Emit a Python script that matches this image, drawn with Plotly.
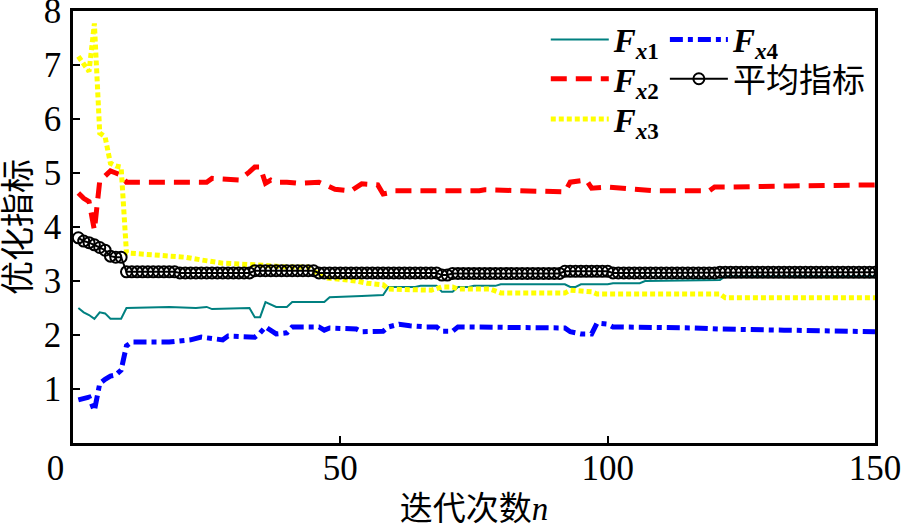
import plotly.graph_objects as go

# ---------------- data ----------------
fx1_n = [1, 2, 3, 4, 5, 6, 7, 9, 10, 18, 23, 25, 26, 33, 34, 35, 36, 38, 40, 41, 47, 48, 54, 58, 59,
         64, 65, 68, 69, 71, 72, 74, 75, 79, 80, 92, 93, 94, 95, 100, 101, 106, 107, 121, 122, 150]
fx1_v = [2.50, 2.42, 2.37, 2.30, 2.42, 2.40, 2.30, 2.30, 2.50, 2.52, 2.50, 2.52, 2.48, 2.50, 2.33, 2.33,
         2.61, 2.52, 2.52, 2.61, 2.61, 2.70, 2.72, 2.74, 2.89, 2.89, 2.91, 2.91, 2.80, 2.80, 2.89, 2.89,
         2.91, 2.91, 2.94, 2.94, 2.89, 2.89, 2.94, 2.94, 2.96, 2.96, 3.00, 3.02, 3.09, 3.09]

fx2_n = [1, 2, 3, 4, 5, 6, 7, 8, 9, 10, 25, 26, 31, 33, 34, 35, 36, 37, 38, 40, 42, 46, 47, 49, 52,
         54, 57, 58, 59, 60, 76, 77, 92, 93, 96, 97, 100, 104, 109, 119, 120, 123, 133, 134, 150]
fx2_v = [4.63, 4.53, 4.47, 3.94, 4.85, 4.95, 5.04, 5.00, 4.96, 4.83, 4.83, 4.90, 4.87, 5.02, 5.11, 5.11,
         4.81, 4.87, 4.83, 4.83, 4.81, 4.83, 4.78, 4.70, 4.67, 4.80, 4.78, 4.61, 4.63, 4.67, 4.67, 4.69,
         4.65, 4.83, 4.87, 4.72, 4.74, 4.70, 4.67, 4.67, 4.74, 4.74, 4.74, 4.76, 4.78]

fx3_n = [1, 2, 3, 4, 5, 6, 7, 8, 9, 10, 16, 21, 24, 28, 34, 40, 44, 47, 53, 55, 58, 59, 67, 69, 71,
         72, 78, 80, 92, 93, 97, 98, 121, 122, 150]
fx3_v = [7.16, 7.02, 6.88, 7.77, 5.74, 5.67, 5.18, 5.13, 5.11, 3.52, 3.48, 3.44, 3.39, 3.33, 3.30, 3.26,
         3.26, 3.06, 3.00, 2.96, 2.93, 2.85, 2.83, 2.89, 2.89, 2.85, 2.85, 2.78, 2.78, 2.83, 2.80, 2.76,
         2.76, 2.69, 2.69]

fx4_n = [1, 2, 3, 4, 5, 6, 7, 8, 9, 10, 11, 18, 21, 22, 24, 26, 28, 29, 34, 35, 36, 38, 40, 41, 46,
         47, 48, 53, 54, 58, 59, 61, 63, 66, 68, 69, 71, 72, 92, 93, 95, 97, 98, 100, 101, 116, 121,
         133, 142, 150]
fx4_v = [0.80, 0.82, 0.85, 0.60, 1.10, 1.18, 1.24, 1.26, 1.35, 1.80, 1.87, 1.87, 1.89, 1.91, 1.96, 1.93,
         1.91, 1.98, 1.96, 2.04, 2.15, 2.02, 2.04, 2.15, 2.15, 2.09, 2.13, 2.11, 2.06, 2.07, 2.15, 2.20,
         2.17, 2.15, 2.15, 2.07, 2.07, 2.15, 2.13, 2.06, 2.02, 2.02, 2.22, 2.20, 2.15, 2.13, 2.11, 2.09,
         2.07, 2.06]

avg_n = list(range(1, 151))
avg_v = [3.80, 3.74, 3.71, 3.67, 3.62, 3.57, 3.46, 3.44, 3.44, 3.17,
         3.17, 3.17, 3.17, 3.17, 3.17, 3.17, 3.17, 3.17, 3.17, 3.15,
         3.15, 3.15, 3.15, 3.15, 3.15, 3.15, 3.15, 3.15, 3.15, 3.15,
         3.15, 3.15, 3.15, 3.19, 3.19, 3.19, 3.19, 3.19, 3.19, 3.19,
         3.19, 3.19, 3.19, 3.19, 3.19, 3.15, 3.15, 3.15, 3.15, 3.15,
         3.15, 3.15, 3.15, 3.15, 3.15, 3.15, 3.15, 3.15, 3.15, 3.15,
         3.15, 3.15, 3.15, 3.15, 3.15, 3.15, 3.15, 3.15, 3.11, 3.11,
         3.14, 3.14, 3.14, 3.14, 3.14, 3.14, 3.14, 3.14, 3.14, 3.14,
         3.14, 3.14, 3.14, 3.14, 3.14, 3.14, 3.14, 3.14, 3.14, 3.14,
         3.14, 3.18, 3.18, 3.18, 3.18, 3.18, 3.18, 3.18, 3.18, 3.18,
         3.15, 3.15, 3.15, 3.15, 3.15, 3.15, 3.15, 3.15, 3.15, 3.15,
         3.15, 3.15, 3.15, 3.15, 3.15, 3.15, 3.15, 3.15, 3.15, 3.15,
         3.16, 3.16, 3.16, 3.16, 3.16, 3.16, 3.16, 3.16, 3.16, 3.16,
         3.16, 3.16, 3.16, 3.16, 3.16, 3.16, 3.16, 3.16, 3.16, 3.16,
         3.16, 3.16, 3.16, 3.16, 3.16, 3.16, 3.16, 3.16, 3.16, 3.16]

x_ticks = [0, 50, 100, 150]
x_tick_text = ["0&nbsp;&nbsp;&nbsp;&nbsp;", "50", "100", "150"]
y_ticks = [1, 2, 3, 4, 5, 6, 7, 8]
names = ["<b><i>F</i><sub><i>x</i>1</sub></b>",
         "<b><i>F</i><sub><i>x</i>2</sub></b>",
         "<b><i>F</i><sub><i>x</i>3</sub></b>",
         "<b><i>F</i><sub><i>x</i>4</sub></b>",
         "平均指标"]

SERIF = "Liberation Serif, Noto Sans CJK SC, serif"

fig = go.Figure()
fig.add_trace(go.Scatter(x=fx1_n, y=fx1_v, mode="lines", name=names[0], showlegend=True,
                         line=dict(color="#008080", width=2), legend="legend"))
fig.add_trace(go.Scatter(x=fx2_n, y=fx2_v, mode="lines", name=names[1], showlegend=True,
                         line=dict(color="#FF0000", width=5, dash="16px,9px"), legend="legend3"))
fig.add_trace(go.Scatter(x=fx3_n, y=fx3_v, mode="lines", name=names[2], showlegend=True,
                         line=dict(color="#FFFF00", width=5, dash="5px,3px"), legend="legend5"))
fig.add_trace(go.Scatter(x=fx4_n, y=fx4_v, mode="lines", name=names[3], showlegend=True,
                         line=dict(color="#0000FF", width=5, dash="13px,5px,5px,5px"), legend="legend2"))
fig.add_trace(go.Scatter(x=avg_n, y=avg_v, mode="lines+markers", name=names[4], showlegend=True,
                         line=dict(color="black", width=2),
                         marker=dict(symbol="circle-open", size=11, color="black",
                                     line=dict(width=2, color="black")),
                         legend="legend4"))

axis_common = dict(showline=True, linecolor="black", linewidth=2.5, mirror=True,
                   ticks="inside", ticklen=7, tickwidth=2, tickcolor="black",
                   showgrid=False, zeroline=False, automargin=False,
                   ticklabeloverflow="allow",
                   tickfont=dict(family=SERIF, size=35, color="black"))

fig.update_xaxes(range=[0, 150], tickvals=x_ticks, ticktext=x_tick_text,
                 ticklabelstandoff=-8,
                 title=dict(text="迭代次数<i>n</i>", font=dict(family=SERIF, size=33, color="black"),
                            standoff=14),
                 **axis_common)
fig.update_yaxes(range=[0, 8], tickvals=y_ticks, ticktext=[str(v) for v in y_ticks],
                 ticklabelstandoff=2,
                 title=dict(text="优化指标", font=dict(family=SERIF, size=34, color="black"),
                            standoff=6),
                 **axis_common)

legend_font = dict(family=SERIF, size=33, color="black")


def leg(xp, yp):
    return dict(x=xp, y=yp, xanchor="left", yanchor="middle", bgcolor="rgba(0,0,0,0)",
                font=legend_font, itemwidth=58, tracegroupgap=0, visible=True)


fig.update_layout(
    width=902, height=527,
    margin=dict(l=73, r=27, t=11, b=84),
    paper_bgcolor="white", plot_bgcolor="white",
    showlegend=True,
    legend=leg(0.5895, 0.934),
    legend2=leg(0.738, 0.934),
    legend3=leg(0.5895, 0.843),
    legend4=leg(0.738, 0.843),
    legend5=leg(0.5895, 0.75),
)

fig.write_html("out.html", config={"displayModeBar": False},
               post_script="document.body.style.margin='0px';")
